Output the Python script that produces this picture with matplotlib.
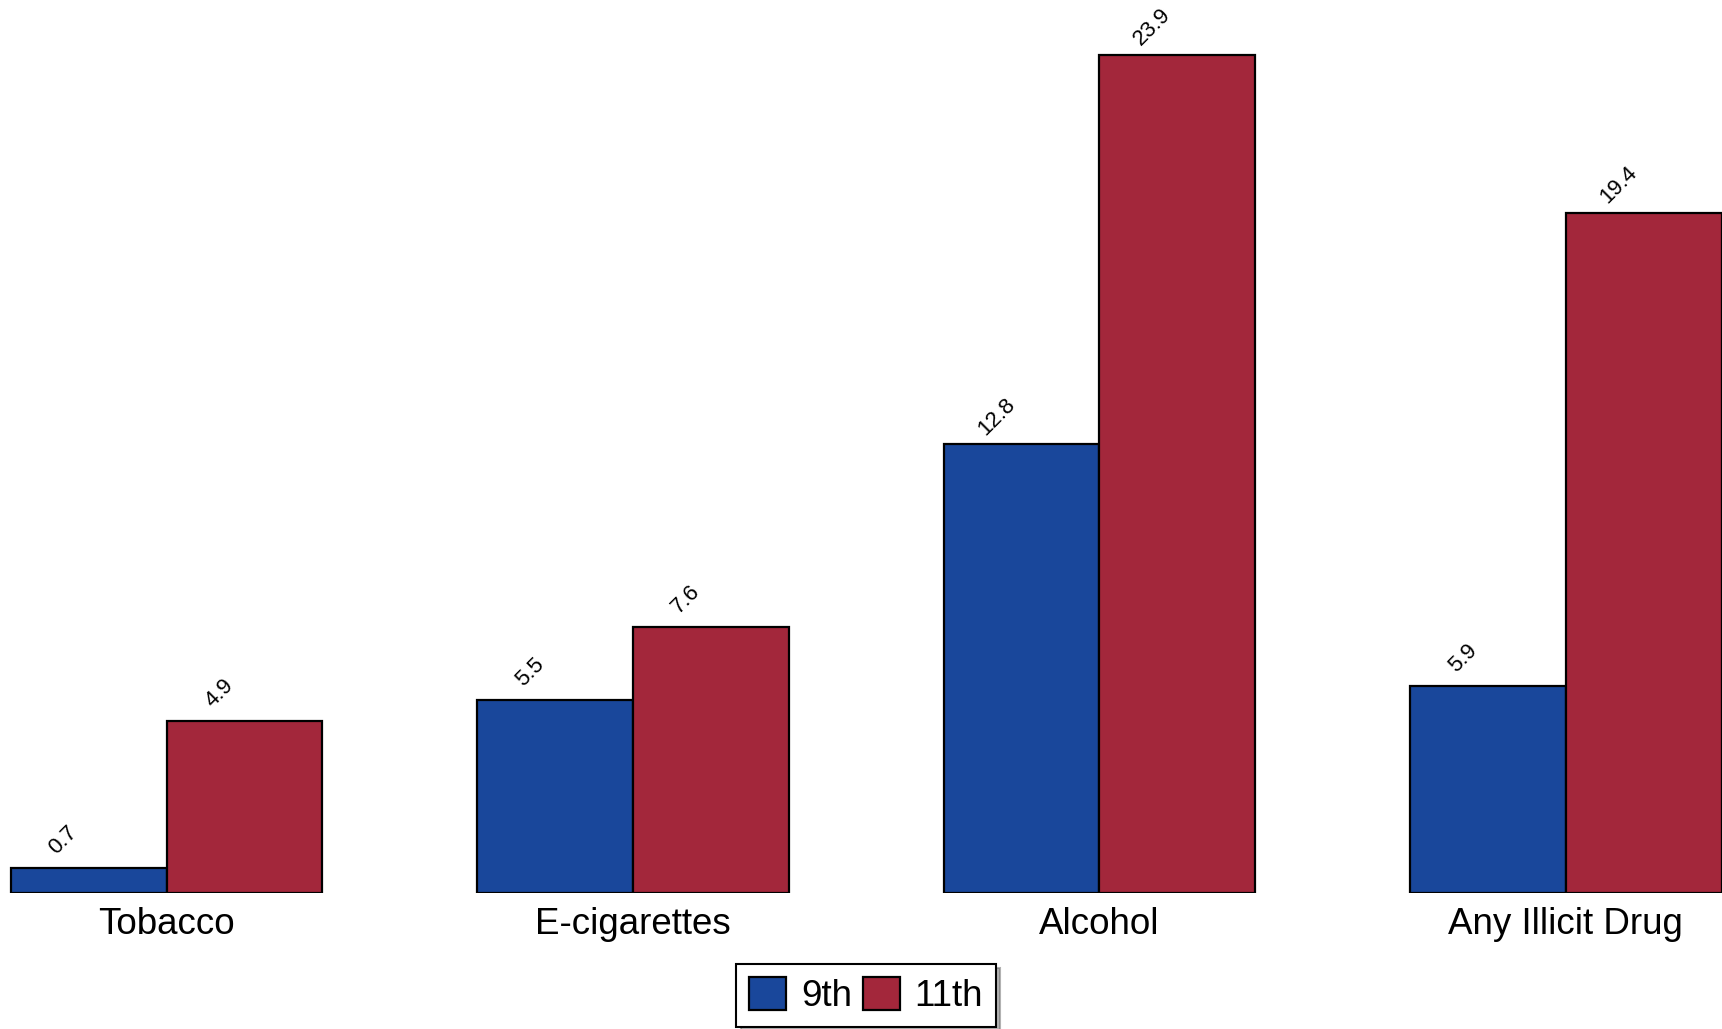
import matplotlib
matplotlib.use('Agg')
from matplotlib import pyplot as plt
import numpy as np

plt.rcParams['font.family'] = ['Liberation Sans', 'DejaVu Sans']

categorias = ['Tobacco', 'E-cigarettes', 'Alcohol', 'Any Illicit Drug']
grado_9 = [0.7, 5.5, 12.8, 5.9]
grado_11 = [4.9, 7.6, 23.9, 19.4]
series = ['9th', '11th']
colores = ['#19479b', '#a3273b']


def grafica_barras():
    fig = plt.figure(figsize=(17.22, 10.29), dpi=100)
    ax = fig.add_axes([0, 0.1322, 1, 0.8678])
    x = np.arange(len(categorias))
    w = 0.334
    b1 = ax.bar(x - w / 2, grado_9, w, color=colores[0], edgecolor='black',
                linewidth=1.6, label=series[0])
    b2 = ax.bar(x + w / 2, grado_11, w, color=colores[1], edgecolor='black',
                linewidth=1.6, label=series[1])
    for barras in (b1, b2):
        for b in barras:
            ax.annotate(f'{b.get_height():.1f}',
                        (b.get_x() + b.get_width() / 2, b.get_height()),
                        xytext=(-18, 20), textcoords='offset points',
                        ha='center', va='center', rotation=45,
                        rotation_mode='anchor', fontsize=16)
    ax.set_xlim(-0.357, 3.335)
    ax.set_ylim(0, 25.47)
    ax.set_xticks(x)
    ax.set_xticklabels(categorias, fontsize=26.5)
    ax.tick_params(axis='x', length=0, pad=10)
    ax.set_yticks([])
    for s in ax.spines.values():
        s.set_visible(False)
    fig.legend(handles=[b1, b2], loc='lower center',
               bbox_to_anchor=(0.503, 0.002), ncol=2, fontsize=26.5,
               handlelength=1.0, handleheight=1.0, handletextpad=0.4,
               columnspacing=0.3, borderpad=0.35, borderaxespad=0,
               fancybox=False, shadow={'color': '0.4', 'ox': 3, 'oy': -3},
               framealpha=1, edgecolor='black')
    fig.legends[0].get_frame().set_linewidth(1.5)
    fig.savefig('out.png', dpi=100)


def main():
    grafica_barras()


if __name__ == '__main__':
    main()
